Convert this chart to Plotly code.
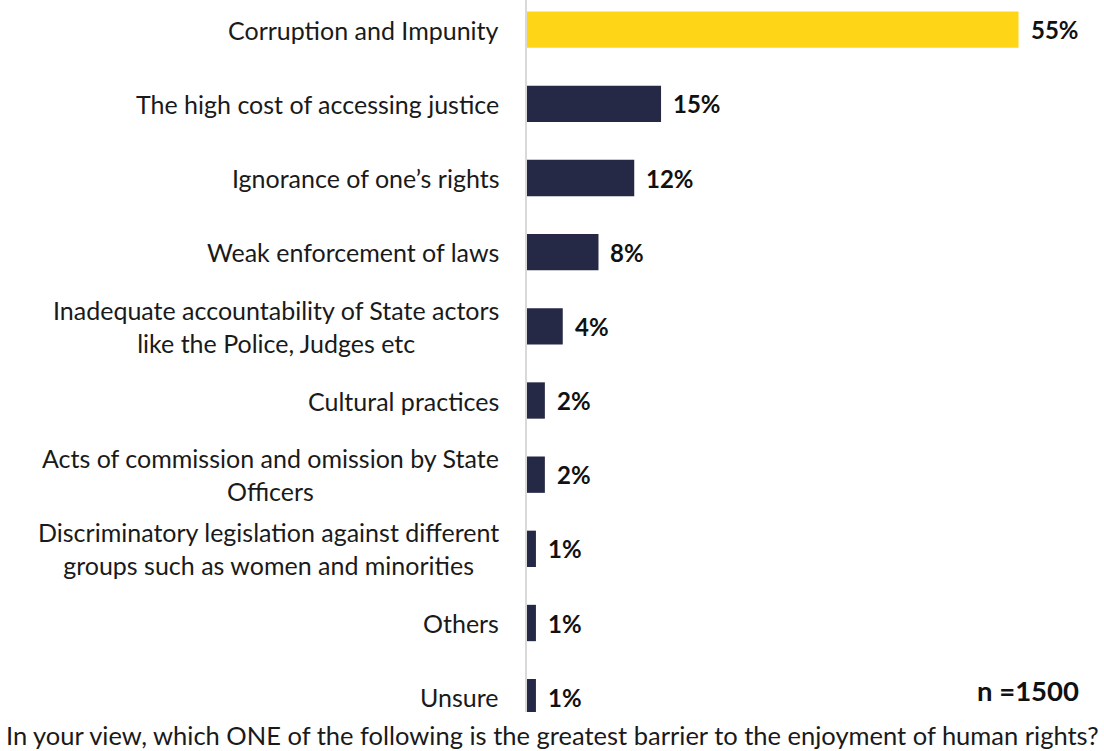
import plotly.graph_objects as go

# Survey responses: greatest barrier to the enjoyment of human rights
categories = [
    "Corruption and Impunity",
    "The high cost of accessing justice",
    "Ignorance of one’s rights",
    "Weak enforcement of laws",
    "Inadequate accountability of State actors<br>like the Police, Judges etc",
    "Cultural practices",
    "Acts of commission and omission by State<br>Officers",
    "Discriminatory legislation against different<br>groups such as women and minorities",
    "Others",
    "Unsure",
]
values = [55, 15, 12, 8, 4, 2, 2, 1, 1, 1]
value_labels = ["55%", "15%", "12%", "8%", "4%", "2%", "2%", "1%", "1%", "1%"]
sample_note = "n =1500"
question = ("In your view, which ONE of the following is the greatest barrier "
            "to the enjoyment of human rights?")

YELLOW = "#FFD517"
NAVY = "#252945"
TEXT = "#1a1a1a"
FONT = "Lato"

# Plot-area geometry in pixels (used to place paper-referenced notes)
W, H = 1104, 751
ML, MR, MT, MB = 527, 14, 0, 39
PW, PH = W - ML - MR, H - MT - MB


def px_to_paper(px, py):
    return (px - ML) / PW, (H - MB - py) / PH


positions = list(range(len(categories)))
colors = [YELLOW] + [NAVY] * (len(categories) - 1)

fig = go.Figure(
    go.Bar(
        x=values,
        y=positions,
        orientation="h",
        marker=dict(color=colors, line=dict(width=0)),
        width=0.49,
        hoverinfo="skip",
    )
)

# Category labels, right-aligned to the axis, multi-line ones centred
for pos, cat in zip(positions, categories):
    fig.add_annotation(
        x=0, y=pos, xref="x", yref="y",
        text=cat, showarrow=False, align="center",
        xanchor="right", yanchor="middle", xshift=-26,
        font=dict(family=FONT, size=25, color=TEXT),
    )

# Value labels just past the end of each bar
for pos, val, lab in zip(positions, values, value_labels):
    fig.add_annotation(
        x=val, y=pos, xref="x", yref="y",
        text=f"<b>{lab}</b>", showarrow=False,
        xanchor="left", yanchor="middle", xshift=10,
        font=dict(family=FONT, size=24, color="#111111"),
    )

nx, ny = px_to_paper(1081, 690)
fig.add_annotation(
    x=nx, y=ny, xref="paper", yref="paper",
    text=f"<b>{sample_note}</b>", showarrow=False,
    xanchor="right", yanchor="middle",
    font=dict(family=FONT, size=27.5, color="#111111"),
)

# Question text along the bottom edge
qx, qy = px_to_paper(4, 735)
fig.add_annotation(
    x=qx, y=qy, xref="paper", yref="paper",
    text=question, showarrow=False,
    xanchor="left", yanchor="middle",
    font=dict(family=FONT, size=25.5, color=TEXT),
)

fig.update_layout(
    width=W, height=H,
    margin=dict(l=ML, r=MR, t=MT, b=MB),
    paper_bgcolor="white", plot_bgcolor="white",
    showlegend=False,
    font=dict(family=FONT, size=21, color=TEXT),
    xaxis=dict(range=[0, 63], visible=False, fixedrange=True),
    yaxis=dict(
        range=[9.2, -0.4],
        tickmode="array", tickvals=positions, ticktext=[""] * len(positions),
        showgrid=False, zeroline=False,
        showline=True, linecolor="#d9d9d9", linewidth=2,
        ticks="", fixedrange=True,
    ),
)

fig.write_html("out.html")
